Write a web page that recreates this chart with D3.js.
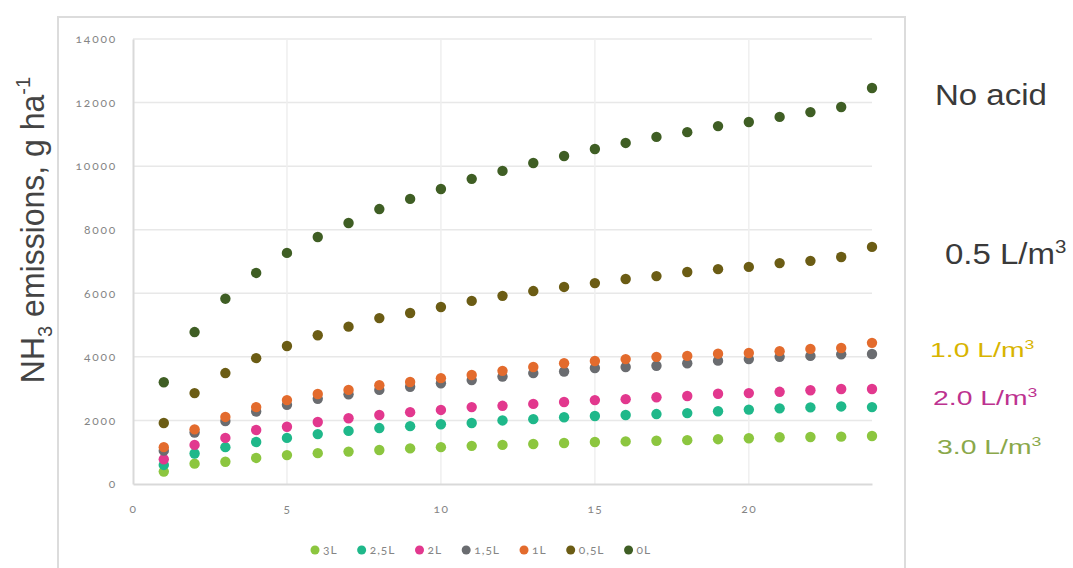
<!DOCTYPE html>
<html>
<head>
<meta charset="utf-8">
<script src="https://cdn.jsdelivr.net/npm/d3@7"></script>
<style>
  html, body { margin: 0; padding: 0; background: #fff; }
  svg { display: block; }
  .tick text { font-family: Lato, "Open Sans", sans-serif; font-variant-numeric: oldstyle-nums; fill: #858585; }
</style>
</head>
<body>
<div id="chart"></div>
<script>
//////////////////////データ//////////////////////
var days = [1,2,3,4,5,6,7,8,9,10,11,12,13,14,15,16,17,18,19,20,21,22,23,24];
var s3L  = [390,640,700,820,910,970,1020,1070,1120,1160,1200,1230,1260,1290,1320,1340,1360,1380,1410,1440,1470,1480,1490,1510];
var s25L = [600,960,1160,1320,1450,1570,1670,1760,1820,1880,1920,2000,2040,2100,2140,2170,2200,2230,2290,2340,2380,2410,2440,2420];
var s2L  = [780,1230,1450,1700,1800,1950,2070,2170,2260,2330,2420,2460,2520,2580,2640,2670,2730,2770,2840,2860,2900,2950,2990,2990];
var s15L = [1050,1620,1980,2280,2490,2680,2820,2960,3060,3170,3270,3380,3490,3540,3650,3680,3720,3800,3880,3930,4000,4030,4080,4090];
var s1L  = [1160,1720,2110,2420,2640,2830,2960,3110,3210,3330,3430,3560,3680,3800,3870,3930,4000,4030,4100,4120,4180,4250,4280,4440];
var s05L = [1920,2860,3490,3960,4340,4680,4950,5220,5380,5570,5760,5920,6070,6200,6320,6450,6540,6670,6760,6830,6950,7020,7140,7460];
var s0L  = [3200,4780,5830,6640,7270,7770,8210,8650,8970,9280,9600,9850,10100,10320,10540,10730,10920,11070,11260,11390,11550,11700,11860,12460];

var seriesNames = ["3L","2,5L","2L","1,5L","1L","0,5L","0L"];
var seriesValues = [s3L, s25L, s2L, s15L, s1L, s05L, s0L];
var seriesColors = ["#8cc63f","#1fb88a","#e2388e","#6a6c70","#e36b2d","#6b5c14","#3f5e24"];

var yTicks = [0,2000,4000,6000,8000,10000,12000,14000];
var xTicks = [0,5,10,15,20];

// 右側ラベル
var sideLabels = [
  {t:"No acid",  sup:"",  color:"#3a3a3a", size:30, sx:1.1,  x:935, y:105},
  {t:"0.5 L/m", sup:"3", color:"#3a3a3a", size:30, sx:1.1,  x:945, y:264},
  {t:"1.0 L/m", sup:"3", color:"#d8b400", size:21, sx:1.35, x:930, y:357},
  {t:"2.0 L/m", sup:"3", color:"#bd3290", size:21, sx:1.35, x:933, y:405},
  {t:"3.0 L/m", sup:"3", color:"#8aa84a", size:21, sx:1.35, x:937, y:454}
];

//////////////////////描画//////////////////////
var W = 1073, H = 568;
var svg = d3.select("#chart").append("svg").attr("width", W).attr("height", H);

// 外枠
svg.append("rect")
  .attr("x", 58).attr("y", 17).attr("width", 847).attr("height", 570)
  .attr("fill", "none").attr("stroke", "#dcdcdc").attr("stroke-width", 2);

var xScale = d3.scaleLinear().domain([0, 24]).range([133, 872]);
var yScale = d3.scaleLinear().domain([0, 14000]).range([484, 39]);

// グリッド
svg.append("g").selectAll("line").data(yTicks.slice(1)).enter().append("line")
  .attr("x1", xScale(0)).attr("x2", xScale(24))
  .attr("y1", d => yScale(d)).attr("y2", d => yScale(d))
  .attr("stroke", "#e8e8e8").attr("stroke-width", 1.5);
svg.append("g").selectAll("line").data(xTicks.slice(1)).enter().append("line")
  .attr("x1", d => xScale(d)).attr("x2", d => xScale(d))
  .attr("y1", yScale(0)).attr("y2", yScale(14000))
  .attr("stroke", "#efefef").attr("stroke-width", 1.5);

// 軸
var yAxis = svg.append("g").attr("transform", "translate(" + xScale(0) + ",0)")
  .call(d3.axisLeft(yScale).tickValues(yTicks).tickSize(0).tickPadding(16).tickFormat(d3.format("d")));
yAxis.select(".domain").attr("stroke", "#d9d9d9").attr("stroke-width", 2);
yAxis.selectAll("text").attr("font-size", 12).attr("letter-spacing", "1.8px");

var xAxis = svg.append("g").attr("transform", "translate(0," + yScale(0) + ")")
  .call(d3.axisBottom(xScale).tickValues(xTicks).tickSize(0).tickPadding(20));
xAxis.select(".domain").attr("stroke", "#d9d9d9").attr("stroke-width", 2);
xAxis.selectAll("text").attr("font-size", 12).attr("letter-spacing", "1.5px");

// 点
seriesValues.forEach(function (vals, i) {
  svg.append("g")
    .selectAll("circle")
    .data(vals)
    .enter()
    .append("circle")
    .attr("cx", function (d, j) { return xScale(days[j]); })
    .attr("cy", function (d) { return yScale(d); })
    .attr("r", 5.2)
    .attr("fill", seriesColors[i]);
});

// 凡例
var lg = svg.append("g");
var lx = 311;
seriesNames.forEach(function (name, i) {
  lg.append("circle").attr("cx", lx + 4).attr("cy", 550).attr("r", 4.5).attr("fill", seriesColors[i]);
  var t = lg.append("text").attr("x", lx + 12).attr("y", 554)
    .attr("font-family", "Lato, 'Open Sans', sans-serif")
    .attr("font-size", 12).attr("letter-spacing", "1px").attr("fill", "#858585")
    .style("font-variant-numeric", "oldstyle-nums")
    .text(name);
  lx += 12 + t.node().getComputedTextLength() + 20;
});

// Y軸タイトル
var yt = svg.append("text")
  .attr("transform", "translate(44,230) scale(1.05,1) rotate(-90)")
  .attr("text-anchor", "middle")
  .attr("font-family", "'Liberation Sans', Arial, sans-serif")
  .attr("font-size", 32).attr("fill", "#444");
yt.append("tspan").text("NH");
yt.append("tspan").attr("font-size", 20).attr("dy", 8).text("3");
yt.append("tspan").attr("dy", -8).text(" emissions, g ha");
yt.append("tspan").attr("font-size", 20).attr("dy", -13).text("-1");

// 右側ラベル
sideLabels.forEach(function (l) {
  var t = svg.append("text")
    .attr("transform", "translate(" + l.x + "," + l.y + ") scale(" + l.sx + ",1)")
    .attr("font-family", "'Liberation Sans', Arial, sans-serif")
    .attr("font-size", l.size).attr("fill", l.color);
  t.append("tspan").text(l.t);
  if (l.sup) {
    t.append("tspan").attr("font-size", l.size * 0.62).attr("dy", -l.size * 0.38).text(l.sup);
  }
});
</script>
</body>
</html>
